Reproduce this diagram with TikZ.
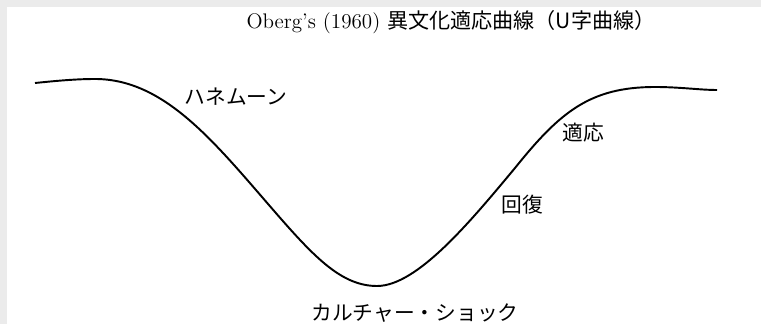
\documentclass[tikz,border=0pt]{standalone}
\usepackage{fontspec}
\newfontfamily\jp{Noto Sans CJK JP}
\usepackage{tikz}
\usetikzlibrary{positioning}

\begin{document}
\begin{tikzpicture}[x=0.02cm, y=-0.02cm,
  lbl/.style={font=\fontsize{11.8}{14}\selectfont\jp, inner sep=0pt},
  curve/.style={line width=1.1pt, black}]
  \useasboundingbox (0,0) rectangle (761,324);
  % screenshot edge shading (top and left)
  \fill[black!8] (0,0) rectangle (761,7);
  \fill[black!8] (0,0) rectangle (7,324);
  % title
  \node[inner sep=0pt, font=\fontsize{12}{14}\selectfont] (title) at (451,22)
    {Oberg's (1960) {\jp 異文化適応曲線（U字曲線）}};
  % U-curve in pixel units
  \draw[curve] (35,83) .. controls (55,81) and (75,79) .. (95,79)
    .. controls (165,79) and (215,143) .. (275,212)
    .. controls (315,258) and (342,286) .. (377,286)
    .. controls (417,286) and (470,222) .. (515,168)
    .. controls (560,112) and (590,87) .. (655,87)
    .. controls (680,87) and (700,90) .. (717,90);
  % stage labels
  \node[lbl] (honeymoon) at (236,97) {ハネムーン};
  \node[lbl] (shock) at (415,313) {カルチャー・ショック};
  \node[lbl] (recovery) at (522,205) {回復};
  \node[lbl] (adjust) at (583,133) {適応};
\end{tikzpicture}
\end{document}
